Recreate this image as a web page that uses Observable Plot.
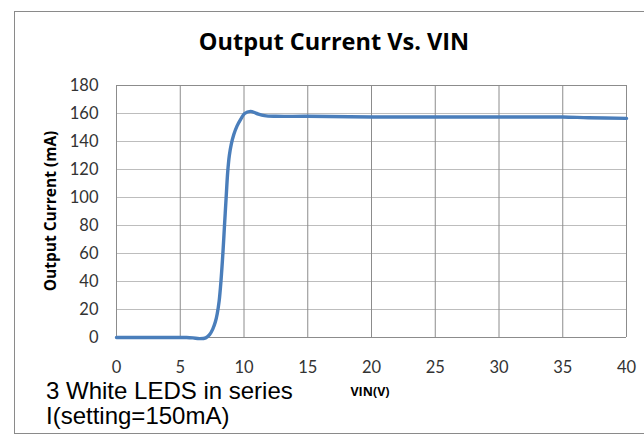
<!DOCTYPE html>
<html>
<head>
<meta charset="utf-8">
<script src="https://cdn.jsdelivr.net/npm/d3@7"></script>
<script src="https://cdn.jsdelivr.net/npm/@observablehq/plot@0.6"></script>
<style>
  html, body { margin: 0; padding: 0; background: #fff; }
  #wrap { position: relative; width: 644px; height: 437px; overflow: hidden; }
  #frame { position: absolute; left: 14px; top: 11px; width: 700px; height: 423px;
           border: 1.5px solid #8a8a8a; box-sizing: border-box; }
  #title { position: absolute; left: 14px; width: 640px; top: 25px; text-align: center;
           font-family: "Open Sans", sans-serif; font-weight: 700; font-size: 23.5px; color: #000; }
  #ylab { position: absolute; left: 50px; top: 211px; transform: translate(-50%, -50%) rotate(-90deg);
          white-space: nowrap; font-family: "Open Sans", sans-serif; font-weight: 700; font-size: 15.5px; color: #000; }
  #xlab { position: absolute; left: 370px; top: 383px; transform: translateX(-50%);
          font-family: "Open Sans", sans-serif; font-weight: 700; font-size: 12.5px; color: #000; }
  #note { position: absolute; left: 46px; top: 378px; font-family: "Liberation Sans", Arial, sans-serif;
          font-size: 24px; line-height: 25px; color: #000; }
  #chart { position: absolute; left: 0; top: 0; }
</style>
</head>
<body>
<div id="wrap">
  <div id="frame"></div>
  <div id="chart"></div>
  <div id="title">Output Current Vs. VIN</div>
  <div id="ylab">Output Current (mA)</div>
  <div id="xlab">VIN(V)</div>
  <div id="note">3 White LEDS in series<br>I(setting=150mA)</div>
</div>
<script>
// Input voltage (V)
const vin = [0, 1, 2, 3, 4, 5, 5.5, 6, 6.5, 7, 7.3, 7.55, 7.75, 7.9, 8.05, 8.2, 8.35, 8.47, 8.6, 8.72, 8.85, 9.0, 9.2, 9.45, 9.75, 10.05, 10.5, 11.0, 11.6, 12.5, 15, 20, 25, 30, 33, 35, 37, 40];
// Output current (mA)
const iout = [0, 0, 0, 0, 0, 0, 0, -0.3, -0.8, -0.3, 2, 6, 11, 17, 26, 41, 61, 80, 100, 118, 130, 138, 145, 151, 156, 160, 161.5, 160, 158.5, 158, 158, 157.5, 157.5, 157.5, 157.5, 157.5, 157, 156.5];
const xTicks = [0, 5, 10, 15, 20, 25, 30, 35, 40];
const yTicks = [0, 20, 40, 60, 80, 100, 120, 140, 160, 180];

const data = vin.map((v, i) => ({v, i: iout[i]}));

const chart = Plot.plot({
  width: 644,
  height: 437,
  marginLeft: 116,
  marginRight: 18,
  marginTop: 85,
  marginBottom: 100,
  style: {background: "transparent", fontFamily: "Lato, sans-serif", fontSize: "16.5px", color: "#333"},
  x: {domain: [0, 40], ticks: xTicks},
  y: {domain: [0, 180], ticks: yTicks},
  marks: [
    Plot.ruleY(yTicks, {stroke: "#bdbdbd", strokeWidth: 1.2}),
    Plot.ruleX(xTicks, {stroke: "#8c8c8c", strokeWidth: 1}),
    Plot.ruleY([0], {stroke: "#8c8c8c", strokeWidth: 1}),
    Plot.ruleY([180], {stroke: "#8c8c8c", strokeWidth: 1}),
    Plot.axisY({ticks: yTicks, tickSize: 0, tickPadding: 18, label: null}),
    Plot.axisX({ticks: xTicks, tickSize: 0, tickPadding: 24, label: null}),
    Plot.line(data, {x: "v", y: "i", stroke: "#4a7ebb", strokeWidth: 3.4, curve: "catmull-rom"})
  ]
});
document.getElementById("chart").appendChild(chart);
</script>
</body>
</html>
